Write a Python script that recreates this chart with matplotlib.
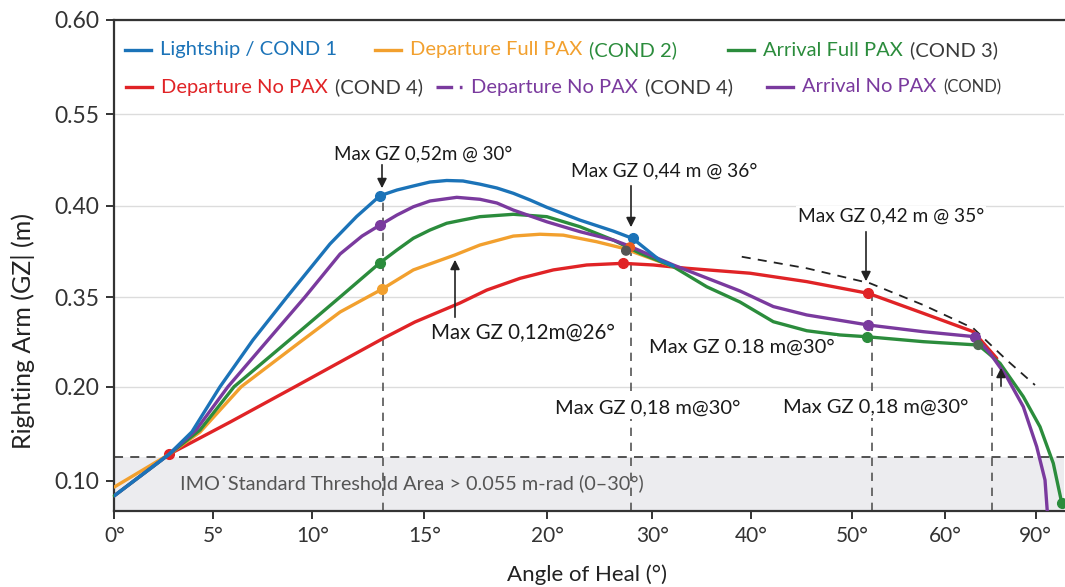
import numpy as np
import matplotlib
matplotlib.use("Agg")
import matplotlib.pyplot as plt
from matplotlib.lines import Line2D
from matplotlib.patches import FancyArrowPatch
from matplotlib.ticker import FixedLocator, NullLocator

plt.rcParams['font.family'] = ['Lato', 'DejaVu Sans']

W, H = 1065, 587

# ticks shown on the (unevenly spaced) axes
x_ticks_deg = [0, 5, 10, 15, 20, 30, 40, 50, 60, 90]
y_ticks_gz = [0.10, 0.20, 0.35, 0.40, 0.55, 0.60]

# where those ticks sit in the picture (pixels) -> piecewise axis scale
X_TICK_PX = [114.3, 213.3, 312.3, 424.3, 547.3, 652.3, 750.7, 852.0, 945.0, 1035.7]
Y_TICK_PX = [480.7, 386.7, 297.0, 205.5, 114.0, 20.0]

# GZ curves: heel angle (deg) / righting arm (m)
light_deg = [0, 2.76, 3.92, 5.34, 7.0, 8.72, 10.79, 11.98, 13.02, 13.78, 14.51, 15.23,
             15.91, 16.57, 17.26, 17.95, 18.62, 19.3, 19.98, 23.11, 26.29, 28.13, 30.78, 32.13]
light_gz = [0.084, 0.128, 0.152, 0.200, 0.278, 0.350, 0.379, 0.394, 0.416, 0.4254, 0.432, 0.4385,
            0.441, 0.4402, 0.435, 0.4287, 0.420, 0.409, 0.399, 0.392, 0.386, 0.382, 0.370, 0.367]
light_dots = [8, 21]

dep_full_deg = [0, 2.76, 4.33, 6.41, 9.38, 11.24, 13.1, 14.51, 16.25, 17.26, 18.62,
                19.7, 21.52, 24.7, 27.24, 30.78, 32.13]
dep_full_gz = [0.0933, 0.128, 0.1518, 0.200, 0.2747, 0.3249, 0.3542, 0.3648, 0.373, 0.3784, 0.3833,
               0.3843, 0.3838, 0.3802, 0.3766, 0.3693, 0.3666]
dep_full_dots = [6]

arr_full_deg = [0, 2.76, 4.33, 6.05, 9.38, 11.24, 13.02, 13.78, 14.51, 15.23, 15.91, 16.57,
                17.26, 18.62, 19.98, 23.11, 26.29, 28.83, 32.13, 35.53, 38.91, 42.23, 45.53,
                48.82, 51.58, 57.67, 71.0, 74.32, 78.19, 85.89, 91.41, 95.81, 98.59]
arr_full_gz = [0.084, 0.128, 0.154, 0.200, 0.293, 0.350, 0.3687, 0.3757, 0.3821, 0.3866, 0.3903, 0.3921,
               0.3939, 0.3952, 0.3939, 0.3884, 0.3811, 0.3739, 0.3666, 0.3556, 0.3416, 0.3087, 0.2936,
               0.2865, 0.2836, 0.2753, 0.2697, 0.2559, 0.2391, 0.1894, 0.1574, 0.1185, 0.0766]
arr_full_dots = [6, 24, 32]

dep_nopax_deg = [2.76, 5.85, 9.13, 11.24, 13.17, 14.58, 16.45, 17.54, 18.89, 20.57, 23.75,
                 27.18, 30.1, 33.5, 39.93, 45.53, 51.75, 57.67, 69.36, 77.1]
dep_nopax_gz = [0.128, 0.1624, 0.200, 0.2413, 0.2809, 0.3082, 0.340, 0.3538, 0.3602, 0.3648, 0.3675,
                0.3684, 0.3675, 0.3657, 0.363, 0.3584, 0.352, 0.3227, 0.292, 0.2475]
dep_nopax_dots = [0, 11, 16]

arr_nopax_deg = [0, 2.76, 4.13, 5.74, 7.76, 9.63, 11.24, 12.22, 13.02, 13.78, 14.51, 15.23,
                 16.32, 17.26, 17.95, 18.62, 19.3, 19.98, 23.11, 26.29, 27.56, 32.13, 38.91,
                 42.23, 45.53, 51.75, 57.67, 69.9, 74.88, 80.39, 85.89, 90.32, 93.07, 93.83]
arr_nopax_gz = [0.084, 0.128, 0.154, 0.200, 0.278, 0.350, 0.3735, 0.3833, 0.3893, 0.3948, 0.3993, 0.4074,
                0.4134, 0.4102, 0.4041, 0.3975, 0.3943, 0.3911, 0.3857, 0.3811, 0.3784, 0.3675, 0.3533,
                0.334, 0.320, 0.3032, 0.292, 0.2836, 0.2559, 0.2167, 0.1787, 0.1362, 0.1007, 0.067]
arr_nopax_dots = [8, 25, 27]

# loose markers near the curves
extra_deg = [27.88, 27.5, 71.0]
extra_gz = [0.3772, 0.3753, 0.2697]
extra_colors = ['#ea5b1f', '#555555', '#4f6b52']

# dashed envelope on the right
env_deg = [39.09, 45.53, 51.94, 57.67, 69.36, 80.39, 89.75]
env_gz = [0.372, 0.3657, 0.3575, 0.3366, 0.2977, 0.2446, 0.2028]

# vertical guide lines
guide_deg = [13.17, 27.97, 52.12, 75.44]
guide_top = [0.4156, 0.3757, 0.3522, 0.2396]

imo_threshold = 0.125

BLUE, ORANGE, GREEN, RED, PURPLE = '#1b73b8', '#f2a02e', '#2b8c3c', '#e02326', '#7a3a9e'
GREY_TXT = '#3a3a3a'


def piecewise(src, dst):
    src = np.asarray(src, float)
    dst = np.asarray(dst, float)

    def f(v):
        v = np.asarray(v, float)
        out = np.interp(v, src, dst)
        lo = dst[0] + (v - src[0]) * (dst[1] - dst[0]) / (src[1] - src[0])
        hi = dst[-1] + (v - src[-1]) * (dst[-1] - dst[-2]) / (src[-1] - src[-2])
        out = np.where(v < src[0], lo, out)
        out = np.where(v > src[-1], hi, out)
        return out
    return f


y_up_px = [H - p for p in Y_TICK_PX]

fig = plt.figure(figsize=(W / 100, H / 100), dpi=100)
ax = fig.add_axes([114.3 / W, (H - 510.7) / H, (1064 - 114.3) / W, (510.7 - 20) / H])
ax.set_xscale('function', functions=(piecewise(x_ticks_deg, X_TICK_PX),
                                     piecewise(X_TICK_PX, x_ticks_deg)))
ax.set_yscale('function', functions=(piecewise(y_ticks_gz, y_up_px),
                                     piecewise(y_up_px, y_ticks_gz)))
ax.set_xlim(0, 99.35)
ax.set_ylim(0.0681, 0.60)

ax.xaxis.set_major_locator(FixedLocator(x_ticks_deg))
ax.yaxis.set_major_locator(FixedLocator(y_ticks_gz))
ax.xaxis.set_minor_locator(NullLocator())
ax.yaxis.set_minor_locator(NullLocator())
ax.set_xticklabels([f"{d}°" for d in x_ticks_deg])
ax.set_yticklabels([f"{v:.2f}" for v in y_ticks_gz])
ax.tick_params(axis='both', colors='#333333', width=1.4, length=6)
ax.tick_params(axis='x', labelsize=15, pad=5)
ax.tick_params(axis='y', labelsize=16.5, pad=5)

for s in ['left', 'bottom', 'top']:
    ax.spines[s].set_color('#333333')
    ax.spines[s].set_linewidth(1.6)
ax.spines['right'].set_visible(False)

ax.yaxis.grid(True, color='#dcdcdc', lw=1.0)
ax.set_axisbelow(True)

# IMO threshold band
ax.axhspan(0.0681, imo_threshold, color='#ececef', zorder=0.6, lw=0)
ax.axhline(imo_threshold, color='#444444', lw=1.3, ls=(0, (5, 4)), zorder=1)
ax.vlines(guide_deg, 0.0681, guide_top, colors='#555555', lw=1.2,
          linestyles=[(0, (5, 4))], zorder=1)
ax.plot(env_deg, env_gz, color='#222222', lw=1.3, ls=(0, (5, 4)), zorder=2)

fig.text(180 / W, 1 - 483.3 / H, 'IMO˙Standard Threshold Area > 0.055 m-rad (0–30°)',
         fontsize=14.3, color='#555555', ha='left', va='center')

kw = dict(lw=2.4, marker='o', markersize=7, solid_capstyle='round', solid_joinstyle='round')
ax.plot(dep_nopax_deg, dep_nopax_gz, color=RED, markevery=dep_nopax_dots, zorder=3, **kw)
ax.plot(dep_full_deg, dep_full_gz, color=ORANGE, markevery=dep_full_dots, zorder=4, **kw)
ax.plot(arr_full_deg, arr_full_gz, color=GREEN, markevery=arr_full_dots, zorder=5,
        clip_on=False, **kw)
ax.plot(arr_nopax_deg, arr_nopax_gz, color=PURPLE, markevery=arr_nopax_dots, zorder=6, **kw)
ax.plot(light_deg, light_gz, color=BLUE, markevery=light_dots, zorder=7, **kw)
ax.scatter(extra_deg, extra_gz, s=40, c=extra_colors, zorder=8, clip_on=False)

ax.set_xlabel('Angle of Heal (°)', fontsize=16, color='#222222', va='center')
ax.xaxis.set_label_coords((587 - 114.3) / (1064 - 114.3), -(575 - 510.7) / 490.7)
ax.set_ylabel('Righting Arm (GZ| (m)', fontsize=18, color='#222222', va='center')
ax.yaxis.set_label_coords(-(114.3 - 23) / 949.7, (510.7 - 331) / 490.7)


# annotations (positions in picture pixels)
def fp(x, y):
    return (x / W, 1 - y / H)


notes = [
    ("Max GZ 0,52m @ 30°", 423, 154, 13.5),
    ("Max GZ 0,44 m @ 36°", 664, 171, 13.8),
    ("Max GZ 0,42 m @ 35°", 891, 216, 13.8),
    ("Max GZ 0,12m@26°", 523, 333, 14.8),
    ("Max GZ 0.18 m@30°", 742, 347, 14.5),
    ("Max GZ 0,18 m@30°", 648, 408, 14.5),
    ("Max GZ 0,18 m@30°", 876, 407, 14.5),
]
for txt, x, y, size in notes:
    fig.text(*fp(x, y), txt, fontsize=size, color='#1a1a1a', ha='center', va='center',
             bbox=dict(boxstyle='square,pad=0.1', fc='white', ec='none'), zorder=9)

arrows = [((382, 162), (382, 191)), ((631, 183), (631, 230)), ((866, 229), (866, 284)),
          ((455, 320), (455, 257)), ((1001, 389), (1001, 365))]
for tail, tip in arrows:
    fig.add_artist(FancyArrowPatch(fp(*tail), fp(*tip), transform=fig.transFigure,
                                   arrowstyle='-|>', mutation_scale=14, color='#222222',
                                   lw=1.2, zorder=10))

# legend built from coloured pieces
renderer = fig.canvas.get_renderer()


def legend_item(x_line, y, line_color, parts, ls='-'):
    fig.add_artist(Line2D([x_line / W, (x_line + 26) / W], [1 - y / H] * 2,
                          color=line_color, lw=2.4, ls=ls))
    x = x_line + 35
    for s, c, size in parts:
        t = fig.text(x / W, 1 - y / H, s, color=c, fontsize=size, ha='left', va='center')
        x = t.get_window_extent(renderer).x1 + 7


legend_item(125, 50, BLUE, [("Lightship / COND 1", BLUE, 14.5)])
legend_item(375, 50, ORANGE, [("Departure Full PAX", ORANGE, 14.5), ("(COND 2)", GREEN, 14.5)])
legend_item(728, 50, GREEN, [("Arrival Full PAX", GREEN, 14.5), ("(COND 3)", GREY_TXT, 14.5)])
legend_item(126, 87, RED, [("Departure No PAX", RED, 14.5), ("(COND 4)", GREY_TXT, 14.5)])
legend_item(436, 87, PURPLE, [("Departure No PAX", PURPLE, 14.5), ("(COND 4)", GREY_TXT, 14.5)],
            ls=(0, (5, 2, 1, 2)))
legend_item(767, 87, PURPLE, [("Arrival No PAX", PURPLE, 14.5), ("(COND)", GREY_TXT, 12)])

fig.savefig('out.png', dpi=100)
